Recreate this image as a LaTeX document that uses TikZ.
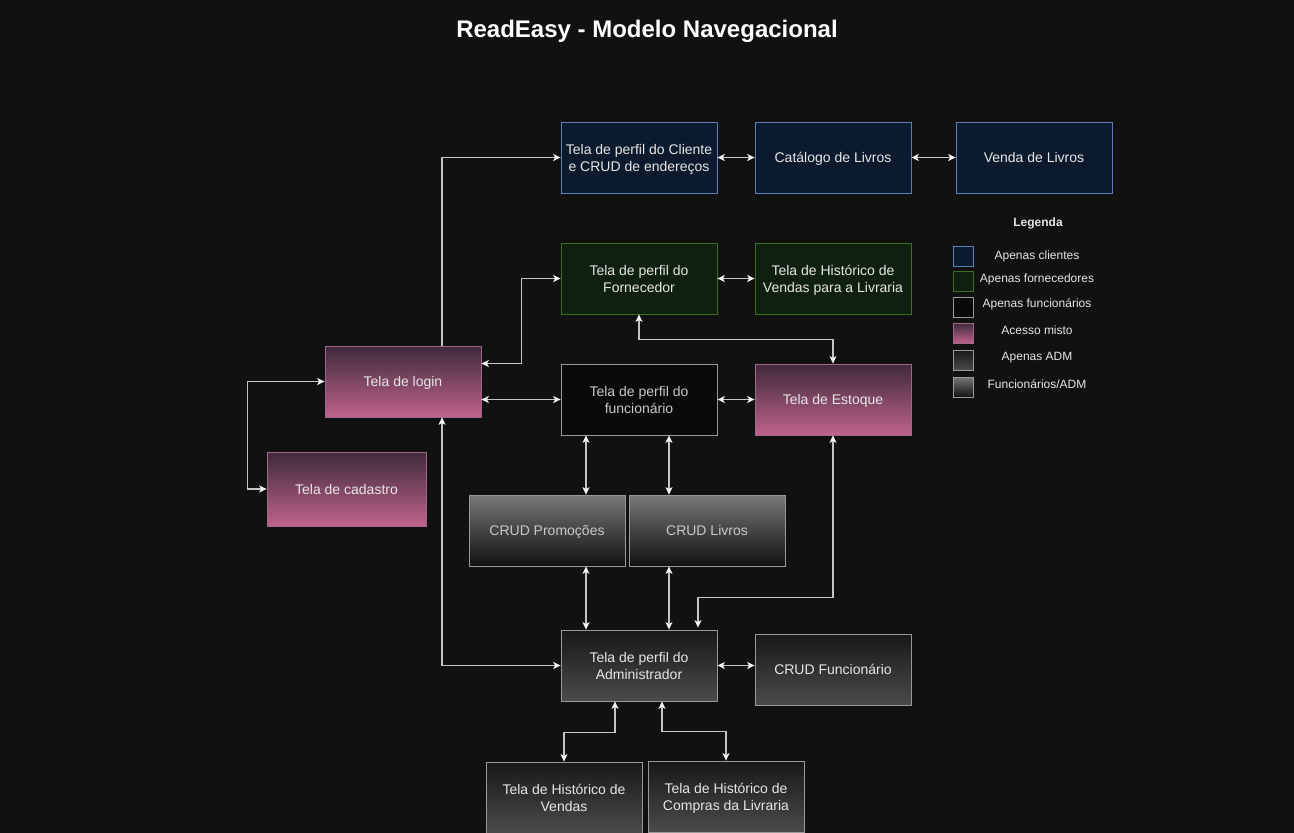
\documentclass[tikz,border=0pt]{standalone}
\usepackage{fontspec}
\setmainfont{Liberation Sans}
\usetikzlibrary{arrows.meta}
\definecolor{bg}{HTML}{111111}
\definecolor{lc}{HTML}{C4C4C4}
\definecolor{tc}{HTML}{F2F2F2}
\definecolor{txt}{HTML}{E6E6E6}
\definecolor{txtg}{HTML}{C8C8C8}
\definecolor{cliF}{HTML}{0C1A2E}
\definecolor{cliD}{HTML}{5A7EB5}
\definecolor{forF}{HTML}{102010}
\definecolor{forD}{HTML}{3C6E22}
\definecolor{pinkT}{HTML}{3E2A3A}
\definecolor{pinkB}{HTML}{C0638C}
\definecolor{pinkD}{HTML}{A0668A}
\definecolor{funF}{HTML}{0A0A0A}
\definecolor{grayD}{HTML}{999999}
\definecolor{crudT}{HTML}{777777}
\definecolor{crudB}{HTML}{111111}
\definecolor{admT}{HTML}{181818}
\definecolor{admB}{HTML}{4B4B4B}
\tikzset{
  x=1pt, y=-1pt,
  box/.style={minimum width=156pt, minimum height=71pt, inner sep=0pt, align=center,
    line width=0.8pt, text=txt, font=\fontsize{14}{17}\selectfont, text depth=-1pt},
  clibox/.style={box, fill=cliF, draw=cliD},
  forbox/.style={box, fill=forF, draw=forD},
  pinkbox/.style={box, top color=pinkT, bottom color=pinkB, draw=pinkD},
  funbox/.style={box, fill=funF, draw=grayD, text=txtg},
  crudbox/.style={box, top color=crudT, bottom color=crudB, draw=grayD, text=txtg},
  admbox/.style={box, top color=admT, bottom color=admB, draw=grayD},
  tip/.tip={Stealth[length=7.5pt,width=7pt,inset=2pt,color=tc]},
  arr/.style={draw=lc, line width=1.2pt, tip-tip},
  arrone/.style={draw=lc, line width=1.2pt, -tip},
  legsq/.style={minimum width=20pt, minimum height=20pt, inner sep=0pt, line width=0.8pt},
  legtxt/.style={text=txt, font=\fontsize{12}{14}\selectfont, inner sep=0pt},
}
\begin{document}
\begin{tikzpicture}
\useasboundingbox (0,0) rectangle (1294,833);
\fill[bg] (0,0) rectangle (1294,833);

\node[text=white, font=\bfseries\fontsize{24}{28}\selectfont] (title) at (647,31) {ReadEasy - Modelo Navegacional};

% boxes
\node[clibox] (cli) at (639,157.5) {Tela de perfil do Cliente\\e CRUD de endereços};
\node[clibox] (cat) at (833,157.5) {Catálogo de Livros};
\node[clibox] (ven) at (1034,157.5) {Venda de Livros};
\node[forbox] (forn) at (639,278.5) {Tela de perfil do\\Fornecedor};
\node[forbox] (hlv) at (833,278.5) {Tela de Histórico de\\Vendas para a Livraria};
\node[pinkbox] (login) at (403,381.5) {Tela de login};
\node[funbox] (func) at (639,399.5) {Tela de perfil do\\funcionário};
\node[pinkbox] (est) at (833,399.5) {Tela de Estoque};
\node[pinkbox, minimum width=159pt, minimum height=74pt] (cad) at (346.5,489) {Tela de cadastro};
\node[crudbox] (promo) at (547,530.5) {CRUD Promoções};
\node[crudbox] (livros) at (707,530.5) {CRUD Livros};
\node[admbox] (admin) at (639,665.5) {Tela de perfil do\\Administrador};
\node[admbox] (cf) at (833,669.5) {CRUD Funcionário};
\node[admbox] (hv) at (564,797.5) {Tela de Histórico de\\Vendas};
\node[admbox] (hc) at (726,796.5) {Tela de Histórico de\\Compras da Livraria};

% connectors
\draw[arrone] ([xshift=39pt]login.north) |- (cli.west);
\draw[arr] (cli.east) -- (cat.west);
\draw[arr] (cat.east) -- (ven.west);
\draw[arr] ([yshift=18pt]login.east) -- ++(40,0) |- (forn.west);
\draw[arr] (forn.east) -- (hlv.west);
\draw[arr] (forn.south) -- ++(0,25) -| (est.north);
\draw[arr] ([yshift=-18pt]login.east) -- (func.west);
\draw[arr] (func.east) -- (est.west);
\draw[arr] (login.west) -- ++(-77,0) |- (cad.west);
\draw[arr] ([xshift=-53pt]func.south) -- ([xshift=-53pt]func.south |- promo.north);
\draw[arr] ([xshift=30pt]func.south) -- ([xshift=30pt]func.south |- livros.north);
\draw[arr] ([xshift=39pt]promo.south) -- ([xshift=39pt]promo.south |- admin.north);
\draw[arr] ([xshift=-38pt]livros.south) -- ([xshift=-38pt]livros.south |- admin.north);
\draw[arr] (est.south) -- ++(0,162) -| ([xshift=59pt,yshift=2pt]admin.north);
\draw[arr] ([xshift=39pt]login.south) |- (admin.west);
\draw[arr] (admin.east) -- (admin.east -| cf.west);
\draw[arr] ([xshift=-24pt]admin.south) -- ++(0,31) -| (hv.north);
\draw[arr] ([xshift=23pt]admin.south) -- ++(0,30) -| (hc.north);

% legend
\node[text=txt, font=\bfseries\fontsize{12}{14}\selectfont] (legtitle) at (1038,223) {Legenda};
\node[legsq, fill=cliF, draw=cliD] (l1) at (963,256) {};
\node[legsq, fill=forF, draw=forD] (l2) at (963,281) {};
\node[legsq, fill=funF, draw=grayD] (l3) at (963,307) {};
\node[legsq, top color=pinkT, bottom color=pinkB, draw=pinkD] (l4) at (963,333) {};
\node[legsq, top color=admT, bottom color=admB, draw=grayD] (l5) at (963,360) {};
\node[legsq, top color=crudT, bottom color=crudB, draw=grayD] (l6) at (963,387) {};
\node[legtxt] (t1) at (1037,256.5) {Apenas clientes};
\node[legtxt] (t2) at (1037,279.5) {Apenas fornecedores};
\node[legtxt] (t3) at (1037,304.5) {Apenas funcionários};
\node[legtxt] (t4) at (1037,330.5) {Acesso misto};
\node[legtxt] (t5) at (1037,357.5) {Apenas ADM};
\node[legtxt] (t6) at (1037,384.5) {Funcionários/ADM};
\end{tikzpicture}
\end{document}
